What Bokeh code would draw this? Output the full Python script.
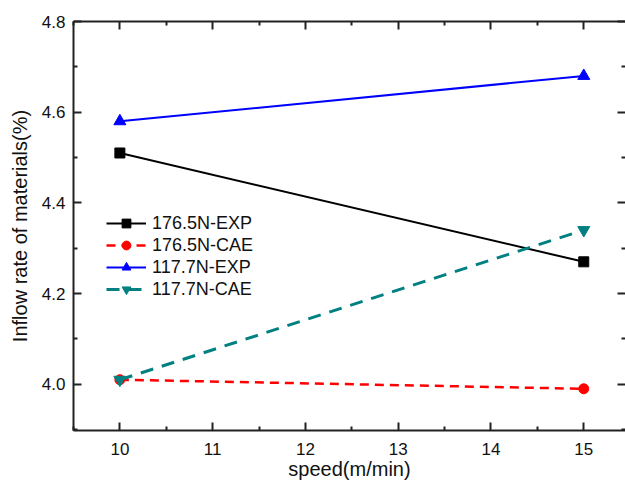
from bokeh.plotting import figure
from bokeh.models import Range1d, LinearAxis, FixedTicker, Legend, LegendItem
from bokeh.embed import file_html
from bokeh.resources import INLINE

speed = [10, 15]
exp_176 = [4.51, 4.27]
cae_176 = [4.01, 3.99]
exp_117 = [4.58, 4.68]
cae_117 = [4.01, 4.34]

x_ticks = [10, 11, 12, 13, 14, 15]
x_minor = [9.5, 10.5, 11.5, 12.5, 13.5, 14.5, 15.5]
y_ticks = [4.0, 4.2, 4.4, 4.6, 4.8]
y_minor = [3.9, 4.1, 4.3, 4.5, 4.7]

FONT = "Liberation Sans"

p = figure(width=625, height=482, output_backend="svg", toolbar_location=None,
           x_range=Range1d(9.5, 15.45), y_range=Range1d(3.898, 4.8),
           min_border_left=73, min_border_top=21, min_border_bottom=52,
           min_border_right=0, x_axis_location=None, y_axis_location=None)
p.grid.visible = False
p.outline_line_color = None
p.background_fill_color = "white"
p.border_fill_color = "white"

def style(ax, labels=True):
    ax.axis_line_color = "#222222"
    ax.axis_line_width = 2
    ax.major_tick_line_color = "#222222"
    ax.major_tick_line_width = 2
    ax.minor_tick_line_color = "#222222"
    ax.minor_tick_line_width = 2
    ax.major_tick_in = 8
    ax.major_tick_out = 0
    ax.minor_tick_in = 4
    ax.minor_tick_out = 0
    ax.major_label_text_font = FONT
    ax.major_label_text_font_size = "17px"
    ax.major_label_text_color = "#111111"
    ax.axis_label_text_font = FONT
    ax.axis_label_text_font_size = "20px"
    ax.axis_label_text_font_style = "normal"
    ax.axis_label_text_color = "#111111"
    if not labels:
        ax.major_label_text_font_size = "0px"
        ax.major_label_text_alpha = 0

xt = FixedTicker(ticks=x_ticks, minor_ticks=x_minor)
yt = FixedTicker(ticks=y_ticks, minor_ticks=y_minor)

bx = LinearAxis(ticker=xt, axis_label="speed(m/min)")
style(bx)
bx.major_label_standoff = 12
bx.axis_label_standoff = 0
p.add_layout(bx, "below")

ly = LinearAxis(ticker=yt, axis_label="Inflow rate of materials(%)")
style(ly)
ly.major_label_standoff = 8
ly.axis_label_standoff = 8
ly.major_label_overrides = {4.0: "4.0", 4.2: "4.2", 4.4: "4.4", 4.6: "4.6", 4.8: "4.8"}
p.add_layout(ly, "left")

tx = LinearAxis(ticker=xt)
style(tx, labels=False)
tx.major_label_standoff = 0
p.add_layout(tx, "above")

ry = LinearAxis(ticker=yt)
style(ry, labels=False)
ry.axis_line_color = None
ry.major_label_standoff = 0
p.add_layout(ry, "right")

r1l = p.line(speed, exp_176, line_color="black", line_width=2)
r1m = p.scatter(speed, exp_176, marker="square", size=10, fill_color="black", line_color="black")
r2l = p.line(speed, cae_176, line_color="#ff0000", line_width=2.5, line_dash="9 6")
r2m = p.scatter(speed, cae_176, marker="circle", size=10, fill_color="#ff0000", line_color="#ff0000")
r3l = p.line(speed, exp_117, line_color="#0000ff", line_width=2)
r3m = p.scatter(speed, exp_117, marker="triangle", size=12, fill_color="#0000ff", line_color="#0000ff")
r4l = p.line(speed, cae_117, line_color="#008080", line_width=3, line_dash="13 9")
r4m = p.scatter(speed, cae_117, marker="inverted_triangle", size=12, fill_color="#008080", line_color="#008080")

legend = Legend(items=[
    LegendItem(label="176.5N-EXP", renderers=[r1l, r1m]),
    LegendItem(label="176.5N-CAE", renderers=[r2l, r2m]),
    LegendItem(label="117.7N-EXP", renderers=[r3l, r3m]),
    LegendItem(label="117.7N-CAE", renderers=[r4l, r4m]),
], location=(33, 130))
legend.border_line_color = None
legend.background_fill_alpha = 0
legend.padding = 0
legend.margin = 0
legend.spacing = 0
legend.glyph_width = 40
legend.glyph_height = 22
legend.label_height = 22
legend.label_standoff = 6
legend.label_text_font = FONT
legend.label_text_font_size = "18px"
legend.label_text_color = "#111111"
p.add_layout(legend, "center")

open("out.html", "w").write(file_html(p, INLINE))
